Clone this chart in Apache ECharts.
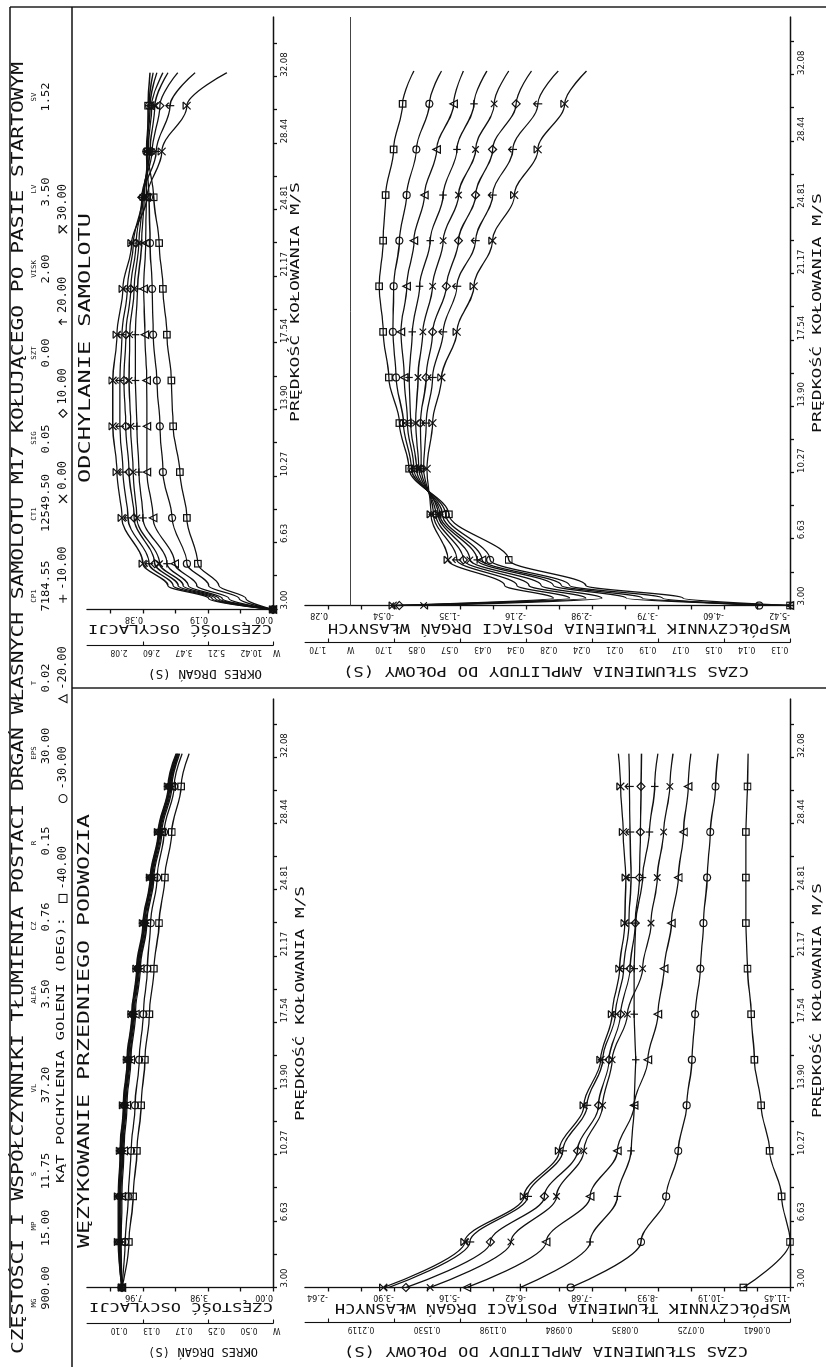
<!DOCTYPE html>
<html><head><meta charset="utf-8">
<script src="https://cdn.jsdelivr.net/npm/echarts@6/dist/echarts.min.js"></script>
<style>
html,body{margin:0;padding:0;width:826px;height:1367px;overflow:hidden;background:#fff;}
#wrap{position:absolute;left:0;top:0;width:1367px;height:826px;transform-origin:0 0;transform:translate(0px,1367px) rotate(-90deg);background:#fff;}
</style></head><body><div id="wrap"></div>
<script>
// ---------------- tick labels ----------------
const SPEED_LABELS = ['3.00','6.63','10.27','13.90','17.54','21.17','24.81','28.44','32.08'];
const WEZ_FREQ_LABELS = ['0.00','3.98','7.96'];
const WEZ_PERIOD_LABELS = ['W','0.50','0.25','0.17','0.13','0.10'];
const ODCH_FREQ_LABELS = ['0.00','0.19','0.38'];
const ODCH_PERIOD_LABELS = ['W','10.42','5.21','3.47','2.60','2.08'];
const WEZ_DAMP_LABELS = ['-11.45','-10.19','-8.93','-7.68','-6.42','-5.16','-3.90','-2.64'];
const WEZ_HALF_LABELS = ['0.0641','0.0725','0.0835','0.0984','0.1198','0.1530','0.2119'];
const ODCH_DAMP_LABELS = ['-5.42','-4.60','-3.79','-2.98','-2.16','-1.35','-0.54','0.28'];
const ODCH_HALF_LABELS = ['0.13','0.14','0.15','0.17','0.19','0.21','0.24','0.28','0.34','0.43','0.57','0.85','1.70','W','1.70'];
const ANGLES = ['-40.00','-30.00','-20.00','-10.00','0.00','10.00','20.00','30.00'];

// ---------------- data: WEZYKOWANIE, czestosc ----------------
const WEZ_SPEED = [3,5.5,8,10.5,13,15.5,18,20.5,23,25.5,28,30.5,32.3];
const wezFreqM40 = [9.25,8.82,8.57,8.33,8.08,7.84,7.57,7.29,6.98,6.62,6.20,5.63,5.14];
const wezFreqM30 = [9.25,9.06,8.86,8.69,8.45,8.20,7.94,7.70,7.49,7.10,6.67,6.06,5.57];
const wezFreqM20 = [9.25,9.30,9.25,9.14,8.95,8.71,8.43,8.13,7.73,7.30,6.81,6.20,5.71];
const wezFreqM10 = [9.25,9.35,9.31,9.20,9.01,8.77,8.49,8.19,7.79,7.36,6.87,6.26,5.77];
const wezFreqP0  = [9.25,9.39,9.36,9.25,9.06,8.82,8.54,8.24,7.84,7.41,6.92,6.31,5.82];
const wezFreqP10 = [9.25,9.42,9.40,9.29,9.10,8.86,8.58,8.28,7.88,7.45,6.96,6.35,5.86];
const wezFreqP20 = [9.25,9.45,9.44,9.33,9.14,8.90,8.62,8.32,7.92,7.49,7.00,6.39,5.90];
const wezFreqP30 = [9.25,9.48,9.48,9.37,9.18,8.94,8.66,8.36,7.96,7.53,7.04,6.43,5.94];

// ---------------- data: ODCHYLANIE, czestosc ----------------
const ODCH_F_SPEED = [3,3.6,4.3,5.5,8,10.5,13,15.5,18,20.5,23,25.5,28,30.5,32.3];
const odchFreqM40 = [0,0.08,0.16,0.222,0.254,0.275,0.295,0.300,0.313,0.325,0.336,0.352,0.370,0.369,0.363];
const odchFreqM30 = [0,0.10,0.19,0.254,0.298,0.325,0.334,0.343,0.354,0.357,0.363,0.366,0.374,0.366,0.354];
const odchFreqM20 = [0,0.13,0.225,0.290,0.354,0.372,0.372,0.373,0.378,0.382,0.376,0.374,0.372,0.363,0.343];
const odchFreqM10 = [0,0.15,0.25,0.313,0.384,0.396,0.402,0.406,0.406,0.400,0.388,0.380,0.369,0.358,0.325];
const odchFreqP0  = [0,0.16,0.265,0.335,0.402,0.413,0.420,0.425,0.423,0.410,0.396,0.384,0.363,0.349,0.310];
const odchFreqP10 = [0,0.17,0.28,0.349,0.410,0.425,0.435,0.440,0.434,0.420,0.404,0.387,0.357,0.334,0.281];
const odchFreqP20 = [0,0.18,0.295,0.366,0.428,0.443,0.452,0.452,0.446,0.430,0.412,0.385,0.345,0.304,0.230];
const odchFreqP30 = [0,0.19,0.31,0.384,0.446,0.461,0.473,0.473,0.461,0.443,0.417,0.372,0.328,0.254,0.136];

// ---------------- data: WEZYKOWANIE, tlumienie ----------------
const wezDampM40 = [-10.56,-11.45,-11.29,-11.06,-10.90,-10.77,-10.71,-10.64,-10.61,-10.61,-10.61,-10.64,-10.65];
const wezDampM30 = [-7.27,-8.61,-9.09,-9.32,-9.48,-9.58,-9.64,-9.74,-9.80,-9.87,-9.93,-10.03,-10.08];
const wezDampM20 = [-5.29,-6.80,-7.64,-8.16,-8.48,-8.74,-8.93,-9.05,-9.19,-9.32,-9.42,-9.51,-9.56];
const wezDampM10 = [-6.31,-7.64,-8.16,-8.42,-8.48,-8.51,-8.48,-8.48,-8.51,-8.64,-8.77,-8.87,-8.93];
const wezDampP0  = [-4.59,-6.13,-7.00,-7.52,-7.88,-8.06,-8.35,-8.64,-8.80,-8.92,-9.04,-9.16,-9.22];
const wezDampP10 = [-4.13,-5.74,-6.77,-7.40,-7.80,-8.00,-8.22,-8.40,-8.50,-8.58,-8.60,-8.61,-8.62];
const wezDampP20 = [-3.80,-5.35,-6.45,-7.12,-7.58,-7.88,-8.12,-8.28,-8.38,-8.42,-8.40,-8.39,-8.38];
const wezDampP30 = [-3.70,-5.25,-6.38,-7.05,-7.52,-7.84,-8.06,-8.20,-8.30,-8.32,-8.27,-8.22,-8.18];

// ---------------- data: ODCHYLANIE, tlumienie ----------------
const ODCH_D_SPEED = [3,3.4,4.1,5.5,8,10.5,13,15.5,18,20.5,23,25.5,28,30.5,32.3];
const odchDampM40 = [-5.42,-4.10,-2.90,-1.95,-1.21,-0.72,-0.60,-0.47,-0.40,-0.35,-0.40,-0.43,-0.53,-0.64,-0.78];
const odchDampM30 = [-5.04,-3.85,-2.70,-1.72,-1.17,-0.75,-0.65,-0.56,-0.52,-0.53,-0.60,-0.69,-0.81,-0.97,-1.12];
const odchDampM20 = [-5.42,-3.60,-2.60,-1.62,-1.13,-0.78,-0.70,-0.66,-0.62,-0.69,-0.78,-0.91,-1.06,-1.27,-1.39];
const odchDampM10 = [-5.42,-3.40,-2.50,-1.56,-1.10,-0.81,-0.74,-0.72,-0.76,-0.85,-0.98,-1.14,-1.31,-1.52,-1.68];
const odchDampP0  = [-0.90,-3.10,-2.35,-1.47,-1.08,-0.84,-0.80,-0.83,-0.89,-1.01,-1.14,-1.33,-1.54,-1.77,-1.95];
const odchDampP10 = [-0.60,-2.90,-2.20,-1.39,-1.05,-0.87,-0.86,-0.93,-1.01,-1.18,-1.33,-1.54,-1.75,-2.04,-2.23];
const odchDampP20 = [-0.55,-2.70,-2.05,-1.31,-1.02,-0.90,-0.93,-1.01,-1.14,-1.31,-1.54,-1.75,-2.00,-2.31,-2.56];
const odchDampP30 = [-0.52,-2.50,-1.90,-1.20,-0.99,-0.94,-1.01,-1.12,-1.31,-1.52,-1.75,-2.02,-2.31,-2.64,-2.91];

// ---------------- texts ----------------
const TITLE = 'CZĘSTOŚCI I WSPÓŁCZYNNIKI TŁUMIENIA POSTACI DRGAŃ WŁASNYCH SAMOLOTU M17 KOŁUJĄCEGO PO PASIE STARTOWYM';
const PARAM_NAMES = ['MG','MP','S','VL','ALFA','CZ','R','EPS','T','CP1','CT1','SIG','SZT','VISK','LV','SV'];
const PARAM_VALUES = ['900.00','15.00','11.75','37.20','3.50','0.76','0.15','30.00','0.02','7184.55','12549.50','0.05','0.00','2.00','3.50','1.52'];
const ANGLE_CAPTION = 'KĄT POCHYLENIA GOLENI (DEG):';
const PANEL_WEZ = 'WĘZYKOWANIE PRZEDNIEGO PODWOZIA';
const PANEL_ODCH = 'ODCHYLANIE SAMOLOTU';
const X_NAME = 'PRĘDKOŚĆ KOŁOWANIA M/S';
const F_NAME = 'CZĘSTOŚĆ OSCYLACJI';
const P_NAME = 'OKRES DRGAŃ (S)';
const D_NAME = 'WSPÓŁCZYNNIK TŁUMIENIA POSTACI DRGAŃ WŁASNYCH';
const H_NAME = 'CZAS STŁUMIENIA AMPLITUDY DO POŁOWY (S)';

// ---------------- layout (original landscape page, rotated by CSS) ----------------
const NUMFONT = "'Liberation Sans Narrow','DejaVu Sans Condensed','Liberation Sans',Arial,sans-serif";
const MONO = "'DejaVu Sans Mono','Liberation Mono',monospace";
const INK = '#111';
const AX = {color: INK, width: 1.3};
const GRIDS = [
  {left: 79.5, top: 87, width: 588.5, height: 186},
  {left: 757.5, top: 87, width: 592.5, height: 186},
  {left: 79.5, top: 305, width: 588.5, height: 485},
  {left: 761.5, top: 305, width: 588.5, height: 485}
];
const XMAX = [35.30, 35.34, 35.30, 35.26];
const NAME_X = [64,141,193,279,372,441,524,614,684,771,853,929,1014,1098,1178,1270];
const VALUE_X = [79,139,196,282,373,450,526,621,689,781,864,928,1014,1098,1175,1270];

function seq(start, step, n) { const a = []; for (let i = 0; i < n; i++) a.push(+(start + i * step).toFixed(6)); return a; }
function fmtFrom(vals, labels) {
  return function (v) { for (let i = 0; i < vals.length; i++) if (Math.abs(v - vals[i]) < 1e-4) return labels[i]; return ''; };
}

const SPEED_STEP = 3.635;
const speedTicks = seq(3, SPEED_STEP / 2, 18);
const speedLabelVals = seq(3, SPEED_STEP, SPEED_LABELS.length);

function xAxisFor(g) {
  return {
    type: 'value', gridIndex: g, min: 3, max: XMAX[g], position: 'bottom',
    axisLine: {show: true, onZero: false, lineStyle: AX},
    axisTick: {show: true, inside: false, length: 4, customValues: speedTicks, lineStyle: AX},
    axisLabel: {show: true, customValues: speedLabelVals, formatter: fmtFrom(speedLabelVals, SPEED_LABELS),
      margin: 7, fontSize: 9.5, fontFamily: NUMFONT, color: INK, align: 'left'},
    splitLine: {show: false}, minorTick: {show: false}
  };
}
function yMain(g, min, max, ticks, labelVals, labels) {
  return {
    type: 'value', gridIndex: g, min: min, max: max, position: 'left',
    axisLine: {show: true, onZero: false, lineStyle: AX},
    axisTick: {show: true, inside: false, length: 4, customValues: ticks, lineStyle: AX},
    axisLabel: {show: true, customValues: labelVals, formatter: fmtFrom(labelVals, labels), rotate: 90,
      align: 'left', verticalAlign: 'bottom', margin: 5, fontSize: 9, fontFamily: NUMFONT, color: INK},
    splitLine: {show: false}
  };
}
function yPeriod(g, min, max, ticks, labelVals, labels, align, offset) {
  return {
    type: 'value', gridIndex: g, min: min, max: max, position: 'left', offset: offset,
    axisLine: {show: true, onZero: false, lineStyle: {color: INK, width: 1.1}},
    axisTick: {show: true, inside: true, length: 4, customValues: ticks, lineStyle: {color: INK, width: 1.1}},
    axisLabel: {show: true, customValues: labelVals, formatter: fmtFrom(labelVals, labels), rotate: 90,
      align: align, verticalAlign: 'bottom', margin: 2, fontSize: 8.5, fontFamily: NUMFONT, color: INK},
    splitLine: {show: false}
  };
}

// y-axis tick positions derived from the tick-label steps
const wezFTicks = seq(0, 1.99, 6), wezFLab = seq(0, 3.98, 3);
const odchFTicks = seq(0, 0.096, 6), odchFLab = seq(0, 0.192, 3);
const wezDTicks = seq(-11.45, 0.629, 15), wezDLab = seq(-11.45, 1.258, 8), wezHLab = seq(-11.45 + 0.629, 1.258, 7);
const odchDTicks = seq(-5.42, 0.40715, 15), odchDLab = seq(-5.42, 0.8143, 8);
const odchHLab = ODCH_HALF_LABELS.map((_, i) => +(-(13 - i) * 0.40715).toFixed(6));

const yAxes = [
  yMain(0, 0, 11.39, wezFTicks, wezFLab, WEZ_FREQ_LABELS),
  yMain(1, 0, 0.549, odchFTicks, odchFLab, ODCH_FREQ_LABELS),
  yMain(2, -11.45, -2.206, wezDTicks, wezDLab, WEZ_DAMP_LABELS),
  yMain(3, -5.42, 0.564, odchDTicks, odchDLab, ODCH_DAMP_LABELS),
  yPeriod(0, 0, 11.39, wezFLab, wezFTicks, WEZ_PERIOD_LABELS, 'right', 36),
  yPeriod(1, 0, 0.549, odchFLab, odchFTicks, ODCH_PERIOD_LABELS, 'right', 36),
  yPeriod(2, -11.45, -2.206, wezDLab, wezHLab, WEZ_HALF_LABELS, 'center', 35),
  yPeriod(3, -5.42, 0.564, odchDLab, odchHLab, ODCH_HALF_LABELS, 'center', 37)
];

// ---------------- symbols ----------------
const SYM = {
  '-40.00': 'rect', '-30.00': 'circle', '-20.00': 'triangle',
  '-10.00': 'path://M5,0L5,10M0,5L10,5',
  '0.00': 'path://M0,0L10,10M10,0L0,10',
  '10.00': 'diamond',
  '20.00': 'path://M5,10L5,0M1.5,3.5L5,0L8.5,3.5',
  '30.00': 'path://M0,0L10,0M0,0L10,10M10,0L0,10'
};
const SYMSIZE = {'-40.00': 6.5, '-30.00': 7, '-20.00': 7.5, '-10.00': 7.5, '0.00': 6.5, '10.00': 8, '20.00': 8.5, '30.00': 7.5};

function isMarker(s) { const k = (s - 3) / 2.5; return Math.abs(k - Math.round(k)) < 1e-6 && s <= 30.5 + 1e-6; }
function mkSeries(name, g, speeds, vals, extra) {
  const data = speeds.map((s, i) => isMarker(s) ? [s, vals[i]] : {value: [s, vals[i]], symbol: 'none'});
  const o = {
    type: 'line', name: name, xAxisIndex: g, yAxisIndex: g, data: data,
    smooth: 0.35, smoothMonotone: 'x', symbol: SYM[name], symbolSize: SYMSIZE[name], symbolKeepAspect: true,
    showSymbol: true, showAllSymbol: true, clip: true,
    lineStyle: {color: INK, width: 1.3}, itemStyle: {color: 'rgba(0,0,0,0)', borderColor: INK, borderWidth: 1.2},
    emphasis: {disabled: true}, silent: true, z: 3
  };
  return Object.assign(o, extra || {});
}

const series = [];
const panels = [
  [0, WEZ_SPEED, [wezFreqM40, wezFreqM30, wezFreqM20, wezFreqM10, wezFreqP0, wezFreqP10, wezFreqP20, wezFreqP30]],
  [1, ODCH_F_SPEED, [odchFreqM40, odchFreqM30, odchFreqM20, odchFreqM10, odchFreqP0, odchFreqP10, odchFreqP20, odchFreqP30]],
  [2, WEZ_SPEED, [wezDampM40, wezDampM30, wezDampM20, wezDampM10, wezDampP0, wezDampP10, wezDampP20, wezDampP30]],
  [3, ODCH_D_SPEED, [odchDampM40, odchDampM30, odchDampM20, odchDampM10, odchDampP0, odchDampP10, odchDampP20, odchDampP30]]
];
panels.forEach(([g, sp, arrs]) => arrs.forEach((a, i) => {
  let extra = null;
  if (g === 3 && i === 0) extra = {markLine: {silent: true, symbol: 'none', label: {show: false},
    lineStyle: {color: '#444', width: 1, type: 'solid'}, data: [{yAxis: 0}], animation: false}};
  series.push(mkSeries(ANGLES[i], g, sp, a, extra));
}));

// ---------------- graphic texts & frame ----------------
function gtext(txt, x, y, fs, len, opt) {
  opt = opt || {};
  const adv = 0.602 * fs;
  const sx = len ? len / (txt.length * adv) : (opt.sx || 1);
  const al = opt.align || 'left';
  return {type: 'text', x: x, y: y, rotation: opt.rot || 0, scaleX: sx, scaleY: 1, silent: true, z: 10,
    style: {text: txt, font: fs + 'px ' + MONO, fill: INK, align: al, textAlign: al,
      verticalAlign: 'middle', textVerticalAlign: 'middle'}};
}
function gline(x1, y1, x2, y2, w, c) {
  return {type: 'line', silent: true, z: 5, shape: {x1: x1, y1: y1, x2: x2, y2: y2}, style: {stroke: c || INK, lineWidth: w || 1.4}};
}
const R90 = Math.PI / 2;
const graphics = [
  gline(39, 10, 1360, 10), gline(1360, 10, 1360, 826), gline(0, 72, 1360, 72), gline(679, 72, 679, 826),
  gtext(TITLE, 13, 18.5, 16, 1292),
  gtext(ANGLE_CAPTION, 184, 61, 10, 266),
  gtext(PANEL_WEZ, 119, 85, 15, 434),
  gtext(PANEL_ODCH, 884, 86, 15, 270),
  gtext(X_NAME, 246, 301, 12, 235), gtext(X_NAME, 945, 296, 12, 240),
  gtext(X_NAME, 249, 818, 12, 235), gtext(X_NAME, 934, 818, 12, 240),
  gtext(F_NAME, 60.5, 273, 13, 184, {rot: R90}), gtext(F_NAME, 738.5, 272, 13, 184, {rot: R90}),
  gtext(P_NAME, 16, 258, 12, 110, {rot: R90}), gtext(P_NAME, 694, 262, 12, 114, {rot: R90}),
  gtext(D_NAME, 59.5, 790, 14, 455, {rot: R90}), gtext(D_NAME, 739, 790, 14, 462, {rot: R90}),
  gtext(H_NAME, 16, 748, 14, 404, {rot: R90}), gtext(H_NAME, 696, 749, 14, 406, {rot: R90})
];
PARAM_NAMES.forEach((t, i) => graphics.push(gtext(t, NAME_X[i], 34, 7, 0, {align: 'center', sx: 1.05})));
PARAM_VALUES.forEach((t, i) => graphics.push(gtext(t, VALUE_X[i], 46, 10.5, 0, {align: 'center', sx: 1.15})));

const chart = echarts.init(document.getElementById('wrap'), null, {renderer: 'canvas', width: 1367, height: 826});
chart.setOption({
  animation: false,
  backgroundColor: '#fff',
  textStyle: {fontFamily: MONO, color: INK},
  grid: GRIDS.map(g => Object.assign({containLabel: false, outerBoundsMode: 'none', show: false}, g)),
  xAxis: [0, 1, 2, 3].map(xAxisFor),
  yAxis: yAxes,
  legend: {
    show: true, left: 464, top: 57, orient: 'horizontal', padding: 0,
    itemWidth: 8, itemHeight: 8, itemGap: 43, selectedMode: false, symbolKeepAspect: true,
    data: ANGLES.map(a => ({name: a, icon: SYM[a]})),
    itemStyle: {color: 'rgba(0,0,0,0)', borderColor: INK, borderWidth: 1.1},
    textStyle: {fontFamily: MONO, fontSize: 12, color: INK}
  },
  graphic: graphics,
  series: series
});
</script></body></html>
